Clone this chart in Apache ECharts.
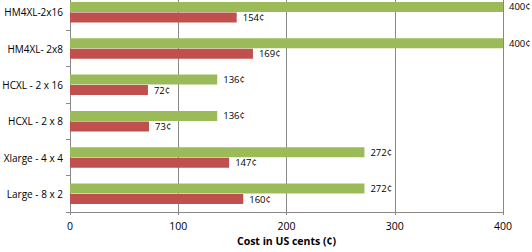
<!DOCTYPE html>
<html>
<head>
<meta charset="utf-8">
<script src="https://cdn.jsdelivr.net/npm/echarts@6/dist/echarts.min.js"></script>
<style>
html, body { margin: 0; padding: 0; background: #fff; }
#main { width: 532px; height: 252px; }
</style>
</head>
<body>
<div id="main"></div>
<script>
// 类目从下到上
var categories = ['Large - 8 x 2', 'Xlarge - 4 x 4', 'HCXL - 2 x 8', 'HCXL - 2 x 16', 'HM4XL- 2x8', 'HM4XL-2x16'];
var redValues = [160, 147, 73, 72, 169, 154];
var greenValues = [272, 272, 136, 136, 400, 400];
var xTicks = [0, 100, 200, 300, 400];

var myChart = echarts.init(document.getElementById('main'), null, { renderer: 'svg' });
var fontFam = '"Open Sans", "Noto Sans", sans-serif';

function barLabel() {
    return {
        show: true,
        position: 'right',
        distance: 6,
        formatter: '{c}¢',
        fontFamily: fontFam,
        fontSize: 9.5,
        color: '#000'
    };
}

var option = {
    animation: false,
    grid: {
        left: 70,
        right: 29,
        top: -6,
        bottom: 40,
        outerBoundsMode: 'none',
        containLabel: false
    },
    xAxis: {
        type: 'value',
        min: xTicks[0],
        max: xTicks[xTicks.length - 1],
        interval: 100,
        name: 'Cost in US cents (¢)',
        nameLocation: 'middle',
        nameGap: 23,
        nameTextStyle: { fontFamily: fontFam, fontWeight: 'bold', fontSize: 10.5, color: '#000' },
        axisLine: { show: true, lineStyle: { color: '#888', width: 1 } },
        axisTick: { show: true, length: 3, lineStyle: { color: '#888' } },
        axisLabel: { fontFamily: fontFam, fontSize: 10.5, color: '#000', margin: 8 },
        splitLine: { show: true, lineStyle: { color: '#888', width: 1 } }
    },
    yAxis: {
        type: 'category',
        data: categories,
        axisLine: { show: true, lineStyle: { color: '#888', width: 1 } },
        axisTick: { show: true, length: 4, lineStyle: { color: '#888' } },
        axisLabel: { fontFamily: fontFam, fontSize: 10, color: '#000', margin: 7 }
    },
    series: [
        {
            name: 'green',
            type: 'bar',
            data: greenValues,
            barWidth: 10,
            barGap: '5%',
            itemStyle: { color: '#9BBB59' },
            label: barLabel()
        },
        {
            name: 'red',
            type: 'bar',
            data: redValues,
            barWidth: 10,
            barGap: '5%',
            itemStyle: { color: '#C0504D' },
            label: barLabel()
        }
    ]
};
myChart.setOption(option);
</script>
</body>
</html>
